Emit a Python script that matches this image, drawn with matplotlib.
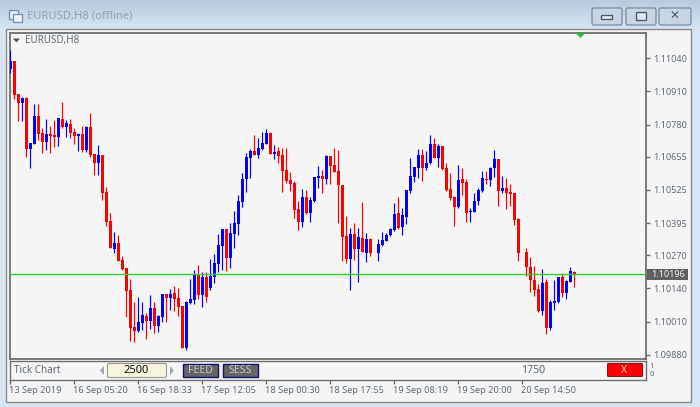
import numpy as np
import matplotlib
matplotlib.use("Agg")
import matplotlib.pyplot as plt
from matplotlib.patches import Rectangle, Polygon, FancyBboxPatch
from matplotlib.transforms import ScaledTranslation

nan = float("nan")

high = [1.11071,1.11028,1.10899,1.10888,1.10888,1.10708,1.10860,1.10860,1.10767,1.10802,
        1.10774,1.10798,1.10806,1.10868,1.10798,1.10802,1.10767,1.10747,1.10774,1.10774,
        1.10825,1.10665,1.10700,1.10661,1.10536,1.10434,1.10360,1.10349,1.10267,1.10220,
        1.10177,1.10087,1.10106,1.10087,1.10044,1.10114,1.10087,1.10036,1.10118,1.10118,
        1.10138,1.10149,1.10141,1.10071,1.10091,1.10177,1.10212,1.10231,1.10204,1.10204,
        1.10255,1.10274,1.10353,1.10372,1.10372,1.10396,1.10442,1.10505,1.10591,1.10669,
        1.10684,1.10739,1.10728,1.10751,1.10763,1.10751,1.10700,1.10692,1.10688,1.10688,
        1.10595,1.10559,1.10481,1.10528,1.10524,1.10497,1.10575,1.10618,1.10602,1.10661,
        1.10657,1.10688,1.10681,1.10544,1.10423,1.10376,1.10396,1.10376,1.10477,1.10356,
        1.10337,nan,1.10333,1.10360,1.10356,1.10376,1.10474,1.10497,1.10454,1.10524,
        1.10649,1.10614,1.10684,1.10684,1.10677,1.10739,1.10728,1.10704,1.10696,1.10630,
        1.10591,1.10501,1.10622,1.10610,1.10567,1.10454,1.10513,1.10532,1.10599,1.10599,
        1.10614,1.10681,1.10645,1.10579,1.10571,1.10548,1.10513,1.10415,nan,1.10298,
        1.10263,1.10227,1.10157,1.10216,1.10177,1.10095,1.10173,1.10184,1.10200,1.10173,
        1.10224,1.10208]
open_ = [1.10997,1.11028,1.10899,1.10864,1.10884,1.10684,1.10704,1.10813,1.10747,1.10712,
         1.10743,1.10739,1.10731,1.10802,1.10770,1.10782,1.10751,1.10735,1.10743,1.10681,
         1.10770,1.10665,1.10630,1.10661,1.10517,1.10403,1.10294,1.10317,1.10251,1.10220,
         1.10134,1.09989,1.09973,1.10005,1.10032,1.10013,1.10063,1.09993,1.10028,1.10118,
         1.10102,1.10122,1.10102,1.10071,1.09907,1.10083,1.10095,1.10196,1.10114,1.10184,
         1.10141,1.10184,1.10235,1.10306,1.10372,1.10259,1.10353,1.10392,1.10477,1.10567,
         1.10649,1.10677,1.10661,1.10684,1.10704,1.10747,1.10665,1.10677,1.10661,1.10602,
         1.10563,1.10552,1.10450,1.10399,1.10497,1.10434,1.10481,1.10571,1.10579,1.10567,
         1.10657,1.10622,1.10599,1.10544,1.10345,1.10255,1.10353,1.10294,1.10337,1.10278,
         1.10333,nan,1.10278,1.10310,1.10325,1.10349,1.10368,1.10434,1.10380,1.10419,
         1.10520,1.10575,1.10610,1.10661,1.10610,1.10630,1.10704,1.10649,1.10696,1.10610,
         1.10528,1.10497,1.10458,1.10567,1.10556,1.10438,1.10438,1.10481,1.10520,1.10567,
         1.10563,1.10610,1.10645,1.10520,1.10532,1.10517,1.10513,1.10411,nan,1.10282,
         1.10224,1.10173,1.10138,1.10052,1.10165,1.09985,1.10083,1.10087,1.10184,1.10122,
         1.10165,1.10204]
close = [1.11028,1.10895,1.10864,1.10884,1.10684,1.10708,1.10813,1.10743,1.10712,1.10743,
         1.10735,1.10731,1.10806,1.10770,1.10786,1.10747,1.10735,1.10743,1.10681,1.10770,
         1.10661,1.10630,1.10661,1.10513,1.10399,1.10298,1.10317,1.10247,1.10216,1.10130,
         1.09985,1.09973,1.10009,1.10036,1.10013,1.10063,1.09993,1.10032,1.10118,1.10102,
         1.10118,1.10099,1.10067,1.09907,1.10087,1.10099,1.10196,1.10114,1.10184,1.10106,
         1.10188,1.10239,1.10310,1.10372,1.10259,1.10356,1.10396,1.10481,1.10567,1.10653,
         1.10677,1.10661,1.10688,1.10708,1.10747,1.10665,1.10673,1.10657,1.10599,1.10559,
         1.10548,1.10446,1.10399,1.10497,1.10434,1.10485,1.10575,1.10579,1.10567,1.10657,
         1.10618,1.10595,1.10544,1.10341,1.10255,1.10353,1.10294,1.10341,1.10282,1.10333,
         1.10278,nan,1.10313,1.10329,1.10349,1.10372,1.10431,1.10376,1.10427,1.10524,
         1.10579,1.10614,1.10661,1.10610,1.10630,1.10704,1.10649,1.10696,1.10606,1.10524,
         1.10493,1.10458,1.10563,1.10552,1.10434,1.10442,1.10481,1.10524,1.10571,1.10563,
         1.10610,1.10645,1.10520,1.10532,1.10513,1.10509,1.10407,1.10278,nan,1.10224,
         1.10173,1.10134,1.10052,1.10161,1.09985,1.10087,1.10091,1.10184,1.10122,1.10169,
         1.10208,1.10192]
low = [1.10981,1.10880,1.10794,1.10794,1.10653,1.10610,1.10704,1.10720,1.10669,1.10681,
       1.10669,1.10692,1.10696,1.10767,1.10731,1.10728,1.10704,1.10677,1.10673,1.10673,
       1.10653,1.10583,1.10583,1.10485,1.10384,1.10298,1.10278,1.10247,1.10212,1.10028,
       1.09934,1.09930,1.09970,1.09977,1.09942,1.09981,1.09966,1.09970,1.10009,1.10009,
       1.10056,1.10052,1.10032,1.09907,1.09899,1.10079,1.10079,1.10099,1.10067,1.10087,
       1.10134,1.10161,1.10204,1.10212,1.10208,1.10220,1.10298,1.10349,1.10458,1.10517,
       1.10571,1.10661,1.10649,1.10681,1.10704,1.10665,1.10645,1.10630,1.10517,1.10552,
       1.10520,1.10415,1.10368,1.10380,1.10431,1.10399,1.10477,1.10532,1.10513,1.10548,
       1.10548,1.10595,1.10396,1.10247,1.10239,1.10134,1.10251,1.10165,1.10282,1.10243,
       1.10267,nan,1.10247,1.10306,1.10325,1.10345,1.10364,1.10372,1.10349,1.10392,
       1.10513,1.10556,1.10571,1.10559,1.10602,1.10626,1.10649,1.10614,1.10602,1.10520,
       1.10485,1.10384,1.10454,1.10505,1.10399,1.10399,1.10438,1.10466,1.10517,1.10548,
       1.10540,1.10575,1.10462,1.10513,1.10450,1.10462,1.10388,1.10247,nan,1.10188,
       1.10126,1.10110,1.10048,1.10036,1.09962,1.09977,1.10056,1.10083,1.10106,1.10099,
       1.10165,1.10145]

price_ticks = [1.11040,1.10910,1.10780,1.10655,1.10525,1.10395,1.10270,1.10140,1.10010,1.09880]
price_labels = ["1.11040","1.10910","1.10780","1.10655","1.10525","1.10395","1.10270","1.10140","1.10010","1.09880"]
current_price = 1.10196
time_labels = ["13 Sep 2019","16 Sep 05:20","16 Sep 18:33","17 Sep 12:05","18 Sep 00:30",
               "18 Sep 17:55","19 Sep 08:19","19 Sep 20:00","20 Sep 14:50"]
time_ticks = [0,16,32,48,64,80,96,112,128]

W, H = 700, 407
FONT = ["Noto Sans", "DejaVu Sans"]
TXT = "#5f6b78"
FRAME = "#6e6e6e"
SMALL = 6.5
plt.rcParams["font.family"] = FONT

fig = plt.figure(figsize=(W/100, H/100), dpi=100, facecolor="#D7E4F2")

def axes_px(x0, y0, x1, y1, **kw):
    return fig.add_axes([x0/W, 1-y1/H, (x1-x0)/W, (y1-y0)/H], **kw)

# window chrome
bg = axes_px(0, 0, W, H, zorder=1)
bg.set_xlim(0, W); bg.set_ylim(H, 0); bg.axis("off")
grad = np.linspace(0, 1, 30)[:, None]
top_c = np.array([0xB8, 0xCB, 0xDC])/255
bot_c = np.array([0xD6, 0xE4, 0xF1])/255
bg.imshow(top_c + (bot_c-top_c)*grad[:, :, None], extent=(0, W, 29, 0), aspect="auto", zorder=0)
bg.set_xlim(0, W); bg.set_ylim(H, 0)
bg.add_patch(Rectangle((6, 29), 685, 373, fc="#F0F0F0", ec="#8c8c8c", lw=1.0, zorder=1))
bg.add_patch(Rectangle((8, 31), 682, 370, fc="#F5F5F5", ec="none", zorder=1))

for x0, x1 in [(592, 622), (626, 656), (659, 691)]:
    bg.add_patch(FancyBboxPatch((x0, 8), x1-x0, 17, boxstyle="round,pad=0,rounding_size=2",
                                fc="#C8D6E4", ec="#7f93a8", lw=1, zorder=2))
bg.add_patch(Rectangle((601, 15), 11, 4, fc="#E8EEF2", ec="#4e5a66", lw=1, zorder=3))
bg.add_patch(Rectangle((636, 12), 10, 8, fc="#DCE6EE", ec="#4e5a66", lw=1, zorder=3))
bg.text(674.5, 16, "✕", ha="center", va="center", fontsize=8.5, color="#4e5a66",
        family=["DejaVu Sans"], fontweight="bold", zorder=3)

# title icon and title
bg.add_patch(Rectangle((9, 10), 9, 9, fc="#E6EEF5", ec="#7a93b0", lw=1, zorder=2))
bg.add_patch(Rectangle((13, 14), 9, 8, fc="#F2F6FA", ec="#7a93b0", lw=1, zorder=3))
bg.text(27, 16.5, "EURUSD,H8 (offline)", ha="left", va="center", fontsize=8.1, color="#98a4ae", zorder=3)

# main chart
ax = axes_px(9.5, 32.5, 646, 359, zorder=2)
ax.set_facecolor("#F5F5F5")
ax.set_xlim(-0.22, 158.9)
ax.set_ylim(1.09864, 1.11140)

x = np.arange(len(high))
o, c = np.array(open_), np.array(close)
hi, lo = np.array(high), np.array(low)
up = c > o
down = c < o

for mask, col in [(up, "#0000FF"), (down, "#FF0000")]:
    ax.vlines(x[mask], lo[mask], hi[mask], colors=col, lw=0.85, zorder=3)
    ax.bar(x[mask], np.abs(c-o)[mask], bottom=np.minimum(o, c)[mask], width=0.8,
           color=col, linewidth=0, zorder=3)

ax.axhline(current_price, color="#32CD32", lw=1.0, zorder=4)

ax.set_xticks([])
ax.yaxis.tick_right()
ax.set_yticks(price_ticks)
ax.set_yticklabels(price_labels, fontsize=SMALL, color=TXT)
ax.tick_params(axis="y", length=3, width=1, color=FRAME, pad=2.5)
for s in ax.spines.values():
    s.set_color(FRAME); s.set_linewidth(1.3)

# overlays in chart
over = axes_px(0, 0, W, H, zorder=5)
over.set_xlim(0, W); over.set_ylim(H, 0); over.axis("off")
over.patch.set_alpha(0)
over.add_patch(Polygon([(575.5, 33), (585.5, 33), (580.5, 38)], fc="#2FB84A", ec="none"))
over.add_patch(Polygon([(13, 38.5), (20, 38.5), (16.5, 42.5)], fc="#555555", ec="none"))
over.text(25, 40, "EURUSD,H8", ha="left", va="center", fontsize=7.1, color=TXT)

over.add_patch(Rectangle((647, 268.5), 41, 11, fc="#606060", ec="none"))
over.text(651.5, 274.3, "1.10196", ha="left", va="center", fontsize=SMALL, color="#E8EEF4")

# tool strip + time axis
strip = axes_px(9.5, 361, 646, 380, zorder=2)
strip.set_facecolor("#F5F5F5")
strip.set_xlim(-0.22, 158.9)
strip.set_yticks([])
strip.set_xticks(time_ticks)
strip.set_xticklabels(time_labels, fontsize=6.6, color=TXT, ha="left")
strip.tick_params(axis="x", length=3, width=1, color=FRAME, pad=1.5)
shift = ScaledTranslation(-1/100, 0, fig.dpi_scale_trans)
for lab in strip.get_xticklabels():
    lab.set_transform(lab.get_transform() + shift)
for s in strip.spines.values():
    s.set_color(FRAME); s.set_linewidth(1.0)

over.text(14, 370.5, "Tick Chart", ha="left", va="center", fontsize=7.1, color=TXT)
over.add_patch(Polygon([(104, 366), (104, 375), (100, 370.5)], fc="#A8A8A8", ec="none"))
over.add_patch(FancyBboxPatch((107.5, 363.5), 59, 14, boxstyle="round,pad=0,rounding_size=1.5",
                              fc="#F7F4DE", ec="#9a9a9a", lw=0.8))
over.text(136.5, 370.5, "2500", ha="center", va="center", fontsize=8, color="#111111")
over.add_patch(Polygon([(170, 366), (170, 375), (174, 370.5)], fc="#A8A8A8", ec="none"))
for x0, x1, label in [(182.5, 217.5, "FEED"), (222.5, 257.5, "SESS")]:
    over.add_patch(Rectangle((x0, 363.5), x1-x0, 13, fc="#666666", ec="#101070", lw=1))
    over.text((x0+x1)/2, 370.3, label, ha="center", va="center", fontsize=7.6, color="#C4C4C4")
over.text(533, 370.5, "1750", ha="center", va="center", fontsize=7.6, color=TXT)
over.add_patch(FancyBboxPatch((607.5, 363.5), 35, 13, boxstyle="round,pad=0,rounding_size=1",
                              fc="#FF0000", ec="#7a2020", lw=0.8))
over.text(624.5, 370.3, "X", ha="center", va="center", fontsize=7.6, color="#FFE8E8")
over.text(651.5, 366, "1", ha="center", va="center", fontsize=5.6, color=TXT)
over.text(651.5, 374, "0", ha="center", va="center", fontsize=5.6, color=TXT)

fig.savefig("out.png", dpi=100, facecolor=fig.get_facecolor())
